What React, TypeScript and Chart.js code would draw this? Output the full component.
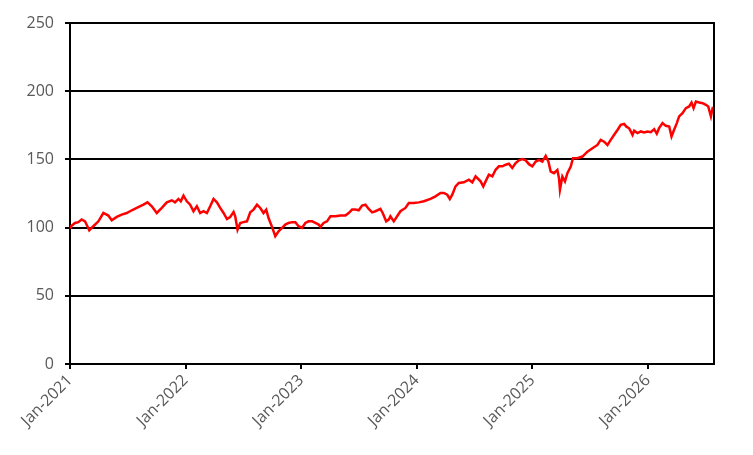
import Chart from "chart.js/auto";
import { useEffect, useRef } from "react";

// months since Jan-2021
const months = [
  0, 0.1, 0.52, 0.87, 1.21, 1.56, 2.0, 2.42, 2.95, 3.46, 3.98, 4.33, 4.85, 5.37, 5.89, 6.41, 6.93, 7.62,
  8.04, 8.49, 9.01, 9.53, 10.05, 10.57, 10.9, 11.26, 11.5, 11.78, 12.13, 12.47, 12.82, 13.17, 13.51,
  13.86, 14.21, 14.55, 14.9, 15.25, 15.59, 15.94, 16.29, 16.63, 16.98, 17.15, 17.39, 17.67, 18.01,
  18.37, 18.71, 19.05, 19.41, 19.75, 20.09, 20.37, 20.61, 20.97, 21.31, 21.65, 22.01, 22.35, 22.69,
  23.05, 23.39, 23.73, 24.08, 24.43, 24.77, 25.13, 25.47, 25.81, 25.99, 26.33, 26.68, 27.03, 27.55,
  28.07, 28.59, 28.93, 29.28, 29.63, 29.97, 30.32, 30.67, 31.01, 31.36, 31.7, 32.22, 32.46, 32.82,
  33.09, 33.26, 33.61, 33.96, 34.3, 34.82, 35.17, 35.69, 36.2, 36.73, 37.42, 37.94, 38.46, 38.81,
  39.16, 39.43, 39.68, 40.02, 40.36, 40.88, 41.4, 41.76, 42.1, 42.62, 42.9, 43.14, 43.48, 43.84,
  44.18, 44.52, 44.88, 45.22, 45.56, 45.91, 46.26, 46.6, 46.95, 47.3, 47.64, 47.99, 48.34, 48.68,
  49.03, 49.38, 49.66, 49.9, 50.24, 50.59, 50.76, 50.86, 51.11, 51.38, 51.63, 51.98, 52.21, 52.67,
  53.19, 53.71, 54.23, 54.75, 55.09, 55.44, 55.79, 56.13, 56.47, 56.83, 57.17, 57.52, 57.76, 58.04,
  58.21, 58.39, 58.56, 58.91, 59.25, 59.6, 59.95, 60.29, 60.64, 60.91, 61.15, 61.51, 61.85, 62.2,
  62.44, 62.71, 62.99, 63.23, 63.58, 63.93, 64.27, 64.52, 64.73, 64.97, 65.31, 65.67, 66.01, 66.25,
  66.53, 66.71, 66.87,
];

const values = [
  100, 101, 103.4, 104, 106, 104.6, 98, 101, 104.6, 110.7, 108.8, 105.4, 107.8, 109.5, 110.7, 112.7, 114.4, 116.8,
  118.5, 115.6, 110.7, 114.4, 118.5, 120, 118.5, 121, 119.3, 123.4, 119.3, 116.8, 112, 115.6, 110.7,
  112, 110.7, 115.6, 121, 118.5, 114.4, 110.7, 106.3, 107.8, 111.5, 108.3, 98.5, 103.4, 104,
  104.6, 111.2, 113.2, 116.8, 114.4, 110.7, 113.2, 107, 100.5, 93.7, 97.3, 99.8, 102.2, 103.4,
  104, 104, 101, 99.8, 103.4, 104.6, 104.6, 103.4, 102.2, 100.5, 103.4, 104.6, 108.3, 108.3,
  108.8, 108.8, 110.7, 113.2, 113.2, 112.7, 116.1, 116.8, 113.7, 111.2, 112, 113.7, 110.7, 104.6,
  105.9, 108.3, 104.6, 108.3, 112, 114.4, 118, 118, 118.5, 119.3, 121, 122.9, 125.4, 125.4,
  124.1, 121, 124.1, 130.2, 132.7, 133.2, 135.1, 133.2, 137.6, 133.9, 130.2, 133.9, 138.8, 137.6,
  142.4, 144.9, 144.9, 146.1, 146.8, 143.7, 147.3, 149.3, 150.2, 149.3, 146.5, 144.9, 148.4, 149.6,
  148.4, 152.6, 148.4, 141.1, 139.9, 142.3, 136.2, 127.7, 137.4, 133.8, 139.9, 144.8, 150.9, 150.9,
  152.1, 155.7, 158.2, 160.6, 164.3, 163, 160.6, 164.3, 167.9, 171.6, 175.3, 176, 174, 172.8,
  170.5, 167.9, 171, 169.3, 170.5, 169.7, 170.5, 170, 172.2, 168.8, 172.9, 176.6, 174.6, 174.1,
  166.8, 171.7, 176.6, 181.5, 183.9, 187.6, 188.8, 191.7, 187.6, 192.4, 191.7, 191.2, 190, 188.8,
  181.5, 187.6, 187.6,
];

const xTickMonths = [0, 12, 24, 36, 48, 60];
const xTickLabels = ["Jan-2021", "Jan-2022", "Jan-2023", "Jan-2024", "Jan-2025", "Jan-2026"];
const yTicks = [0, 50, 100, 150, 200, 250];

const rightBorder = {
  id: "rightBorder",
  afterDraw(chart: Chart) {
    const { ctx, chartArea } = chart;
    ctx.save();
    ctx.strokeStyle = "#000";
    ctx.lineWidth = 2;
    ctx.beginPath();
    ctx.moveTo(chartArea.right, chartArea.top - 1);
    ctx.lineTo(chartArea.right, chartArea.bottom);
    ctx.stroke();
    ctx.restore();
  },
};

export default function App() {
  const canvasRef = useRef<HTMLCanvasElement | null>(null);

  useEffect(() => {
    document.body.style.margin = "0";
    if (!canvasRef.current) {
      return;
    }
    const font = { family: "'Open Sans', sans-serif", size: 16 };
    const chart = new Chart(canvasRef.current, {
      type: "line",
      data: {
        datasets: [
          {
            data: months.map((m, i) => ({ x: m, y: values[i] })),
            borderColor: "#ff0000",
            borderWidth: 2.5,
            pointRadius: 0,
            tension: 0,
            fill: false,
          },
        ],
      },
      options: {
        animation: false,
        responsive: false,
        layout: { padding: { top: 23, right: 39, left: 0, bottom: 0 } },
        plugins: {
          legend: { display: false },
          tooltip: { enabled: false },
        },
        scales: {
          x: {
            type: "linear",
            min: 0,
            max: 66.85,
            afterBuildTicks: (scale: any) => {
              scale.ticks = xTickMonths.map((v) => ({ value: v }));
            },
            afterFit: (scale: any) => {
              scale.height = 91;
            },
            ticks: {
              autoSkip: false,
              maxRotation: 45,
              minRotation: 45,
              padding: 2,
              color: "#595959",
              font,
              callback: (v: any) => xTickLabels[xTickMonths.indexOf(Number(v))] ?? "",
            },
            grid: { drawOnChartArea: false, drawTicks: true, tickLength: 5, color: "#000", lineWidth: 2 },
            border: { display: true, color: "#000", width: 2 },
          },
          y: {
            min: 0,
            max: 250,
            afterBuildTicks: (scale: any) => {
              scale.ticks = yTicks.map((v) => ({ value: v }));
            },
            afterFit: (scale: any) => {
              scale.width = 70;
            },
            ticks: { color: "#595959", font, padding: 11 },
            grid: { color: "#000", lineWidth: 2, tickLength: 5 },
            border: { display: true, color: "#000", width: 2 },
          },
        },
      },
      plugins: [rightBorder],
    });

    return () => {
      chart.destroy();
    };
  }, []);

  return (
    <div style={{ width: 753, height: 455 }}>
      <canvas ref={canvasRef} width={753} height={455} />
    </div>
  );
}
